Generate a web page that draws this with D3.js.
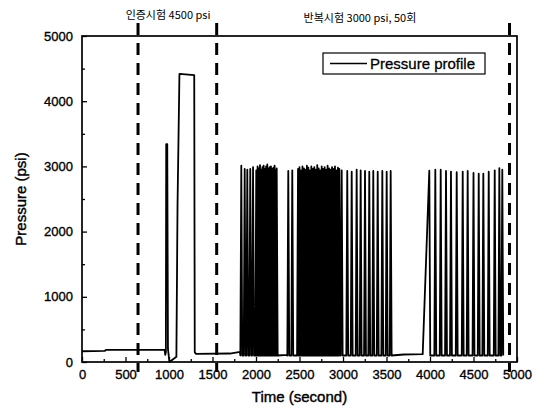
<!DOCTYPE html>
<html><head><meta charset="utf-8">
<script src="https://cdn.jsdelivr.net/npm/d3@7"></script>
<style>body{margin:0;background:#fff}</style>
</head><body><svg id="c" width="545" height="410"></svg>
<script>
// ---------- data ----------
const xTicks = [0, 500, 1000, 1500, 2000, 2500, 3000, 3500, 4000, 4500, 5000];
const yTicks = [0, 1000, 2000, 3000, 4000, 5000];
const xMinor = [250, 750, 1250, 1750, 2250, 2750, 3250, 3750, 4250, 4750];
const yMinor = [500, 1500, 2500, 3500, 4500];

const phaseLines = [644, 1548, 4914];             // dashed separators (s)
const phaseLabels = ["인증시험 4500 psi", "반복시험 3000 psi, 50회"];
const phaseLabelTimes = [989, 3195];

// proof test part + baseline
const initTime = [0, 260, 275, 950, 957, 964, 968, 980, 988, 1005, 1085, 1098, 1120, 1290, 1296, 1310, 1700, 1800, 1815];
const initPsi  = [165, 170, 185, 185, 110, 150, 3340, 3340, 200, 0, 80, 2400, 4420, 4400, 150, 125, 130, 150, 150];

// cyclic test, group 1
const g1Time = [1831, 1870, 1900, 1934, 1966, 2003, 2018, 2032, 2046, 2060, 2074, 2088, 2102, 2116, 2130, 2144, 2158, 2172, 2186, 2200, 2214, 2228, 2238];
const g1Peak = [3010, 2960, 2950, 2960, 2990, 2940, 3000, 2970, 3020, 2950, 2990, 3010, 2960, 3000, 3030, 2970, 2990, 3000, 2960, 2980, 3010, 2950, 2970];
const gap1Time = [2360];
const gap1Psi  = [110];

// cyclic test, group 2
const g2Time = [2371, 2417, 2483, 2500, 2517, 2534, 2551, 2568, 2585, 2602, 2619, 2636, 2653, 2670, 2687, 2704, 2721, 2738, 2755, 2772, 2789, 2806, 2823, 2840, 2857, 2874, 2891, 2908, 2925, 2942, 2958,
                2985, 3049, 3100, 3157, 3203, 3253, 3302, 3348, 3399, 3452, 3502, 3548];
const g2Peak = [2930, 2940, 2960, 2990, 2940, 3000, 2970, 2950, 3010, 2980, 2940, 3000, 2960, 2990, 2950, 3020, 2970, 2940, 3000, 2960, 2990, 2950, 3010, 2970, 2950, 2990, 2960, 3000, 2940, 2980, 2960,
                2940, 2930, 2920, 2950, 2940, 2930, 2920, 2930, 2920, 2930, 2920, 2930];
const gap2Time = [3700, 3916];
const gap2Psi  = [115, 120];

// cyclic test, group 3
const g3Time = [3992, 4061, 4123, 4184, 4241, 4307, 4376, 4433, 4500, 4560, 4613, 4675, 4744, 4797, 4831];
const g3Peak = [2935, 2950, 2950, 2930, 2920, 2910, 2920, 2930, 2900, 2890, 2890, 2920, 2940, 2975, 2950];

const troughPsi = 100;   // lower level of each cycle
const rampSec = 11;      // rise / fall duration of a cycle

// ---------- build series ----------
function cycles(times, peaks, skipFirstLead) {
  const pts = [];
  times.forEach((t, i) => {
    if (!(skipFirstLead && i === 0)) pts.push([t - rampSec, troughPsi]);
    pts.push([t, peaks[i]]);
    pts.push([t + rampSec, troughPsi]);
  });
  return pts;
}
const series = [].concat(
  initTime.map((t, i) => [t, initPsi[i]]),
  cycles(g1Time, g1Peak, false),
  gap1Time.map((t, i) => [t, gap1Psi[i]]),
  cycles(g2Time, g2Peak, false),
  gap2Time.map((t, i) => [t, gap2Psi[i]]),
  cycles(g3Time, g3Peak, true)
);

// ---------- drawing ----------
const svg = d3.select("#c");
const L = 82, R = 517, T = 36, B = 362;
const x = d3.scaleLinear().domain([0, 5000]).range([L, R]);
const y = d3.scaleLinear().domain([0, 5000]).range([B, T]);
const font = "'Liberation Sans', Arial, sans-serif";

// data line
svg.append("path")
  .datum(series)
  .attr("fill", "none")
  .attr("stroke", "#000")
  .attr("stroke-width", 1.8)
  .attr("stroke-linejoin", "round")
  .attr("d", d3.line().x(d => x(d[0])).y(d => y(d[1])));

// axes (ticks pointing inward)
const gx = svg.append("g").attr("transform", `translate(0,${B})`)
  .call(d3.axisBottom(x).tickValues(xTicks).tickSize(-5).tickPadding(8).tickFormat(d3.format("d")));
const gxm = svg.append("g").attr("transform", `translate(0,${B})`)
  .call(d3.axisBottom(x).tickValues(xMinor).tickSize(-3).tickFormat(""));
const gy = svg.append("g").attr("transform", `translate(${L},0)`)
  .call(d3.axisLeft(y).tickValues(yTicks).tickSize(-5).tickPadding(9).tickFormat(d3.format("d")));
const gym = svg.append("g").attr("transform", `translate(${L},0)`)
  .call(d3.axisLeft(y).tickValues(yMinor).tickSize(-3).tickFormat(""));
[gx, gxm, gy, gym].forEach(g => {
  g.select(".domain").remove();
  g.selectAll("line").attr("stroke", "#000").attr("stroke-width", 1.3);
  g.selectAll("text").attr("font-family", font).attr("font-size", 13).attr("fill", "#000")
    .attr("stroke", "#000").attr("stroke-width", 0.35);
});

// frame
svg.append("rect").attr("x", L).attr("y", T).attr("width", R - L).attr("height", B - T)
  .attr("fill", "none").attr("stroke", "#000").attr("stroke-width", 1.7);

// dashed phase separators
svg.selectAll("line.phase").data(phaseLines).enter().append("line")
  .attr("class", "phase")
  .attr("x1", d => x(d)).attr("x2", d => x(d))
  .attr("y1", 23).attr("y2", 372)
  .attr("stroke", "#000").attr("stroke-width", 3)
  .attr("stroke-dasharray", "12,8");

// phase labels
svg.selectAll("text.plabel").data(phaseLabels).enter().append("text")
  .attr("class", "plabel")
  .attr("x", (d, i) => x(phaseLabelTimes[i]))
  .attr("y", (d, i) => i === 0 ? 19 : 22)
  .attr("text-anchor", "middle")
  .attr("font-family", "'Noto Sans CJK KR', 'Liberation Sans', sans-serif")
  .attr("font-size", 11)
  .attr("fill", "#000")
  .text(d => d);

// legend
const lg = svg.append("g");
lg.append("rect").attr("x", 323).attr("y", 53).attr("width", 162).attr("height", 21)
  .attr("fill", "#fff").attr("stroke", "#000").attr("stroke-width", 1.2);
lg.append("line").attr("x1", 330).attr("x2", 367).attr("y1", 63.5).attr("y2", 63.5)
  .attr("stroke", "#000").attr("stroke-width", 1.4);
lg.append("text").attr("x", 370).attr("y", 69).attr("font-family", font).attr("font-size", 15)
  .attr("fill", "#000").attr("stroke", "#000").attr("stroke-width", 0.3).text("Pressure profile");

// axis titles
svg.append("text").attr("x", (L + R) / 2).attr("y", 402).attr("text-anchor", "middle")
  .attr("font-family", font).attr("font-size", 15).attr("fill", "#000")
  .attr("stroke", "#000").attr("stroke-width", 0.4).text("Time (second)");
svg.append("text").attr("transform", `translate(26,${(T + B) / 2}) rotate(-90)`)
  .attr("text-anchor", "middle")
  .attr("font-family", font).attr("font-size", 15).attr("fill", "#000")
  .attr("stroke", "#000").attr("stroke-width", 0.4).text("Pressure (psi)");
</script></body></html>
